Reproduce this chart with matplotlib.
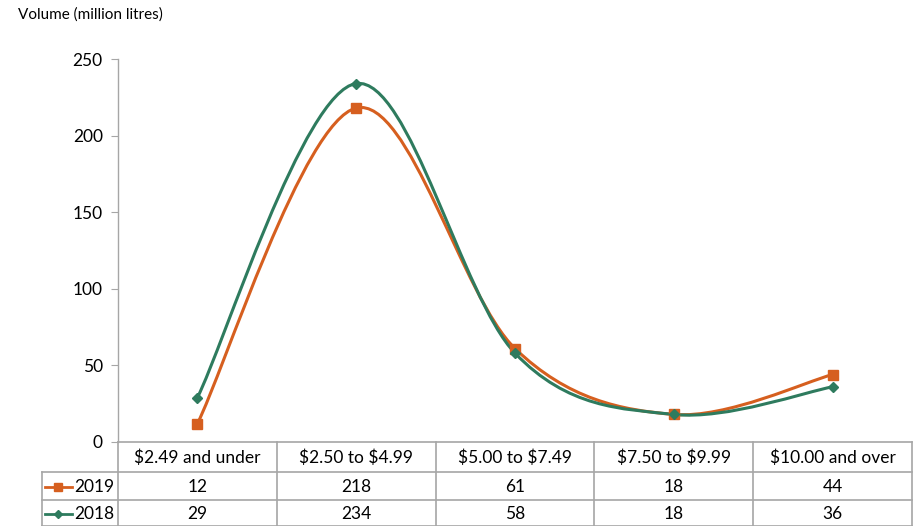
import matplotlib
matplotlib.use("Agg")
import matplotlib.pyplot as plt
from matplotlib.path import Path
from matplotlib.patches import PathPatch
from matplotlib.lines import Line2D
import numpy as np

categories = ["$2.49 and under", "$2.50 to $4.99", "$5.00 to $7.49", "$7.50 to $9.99", "$10.00 and over"]
series_names = ["2019", "2018"]
values_2019 = [12, 218, 61, 18, 44]
values_2018 = [29, 234, 58, 18, 36]
yticks = [0, 50, 100, 150, 200, 250]

plt.rcParams['font.family'] = ['Lato', 'DejaVu Sans']
plt.rcParams['text.parse_math'] = False

C19 = "#D65F1F"
C18 = "#2E7B5E"
GRID = "#A6A6A6"

fig = plt.figure(figsize=(9.18, 5.26), dpi=100)
W, H = 918, 526
L, R, B, T = 118, 912, 442, 59
ax = fig.add_axes([L / W, 1 - B / H, (R - L) / W, (B - T) / H])
n = len(categories)
ax.set_xlim(0, n)
ax.set_ylim(0, 250)
ax.set_yticks(yticks)
ax.set_xticks([])
for s in ["top", "right", "bottom"]:
    ax.spines[s].set_visible(False)
ax.spines["left"].set_color(GRID)
ax.spines["left"].set_linewidth(1.0)
ax.tick_params(axis="y", length=5, color=GRID, labelsize=12.5, pad=6)


def smooth_path(xs, ys):
    pts = list(zip(xs, ys))
    verts = [pts[0]]
    codes = [Path.MOVETO]
    m = len(pts)
    for i in range(m - 1):
        p0 = pts[i - 1] if i > 0 else pts[i]
        p1 = pts[i]
        p2 = pts[i + 1]
        p3 = pts[i + 2] if i + 2 < m else pts[i + 1]
        c1 = (p1[0] + (p2[0] - p0[0]) / 6, p1[1] + (p2[1] - p0[1]) / 6)
        c2 = (p2[0] - (p3[0] - p1[0]) / 6, p2[1] - (p3[1] - p1[1]) / 6)
        verts += [c1, c2, p2]
        codes += [Path.CURVE4] * 3
    return Path(verts, codes)


xs = np.arange(n) + 0.5
for vals, col, mk, ms in [(values_2019, C19, "s", 7), (values_2018, C18, "D", 5)]:
    path = smooth_path(xs, np.array(vals, dtype=float))
    ax.add_patch(PathPatch(path, facecolor="none", edgecolor=col, lw=2.2, zorder=3, clip_on=False))
    ax.plot(xs, vals, linestyle="none", marker=mk, markersize=ms, color=col, zorder=4, clip_on=False)

# y label
fig.text(18 / W, 1 - 15 / H, "Volume (million litres)", fontsize=11, ha="left", va="center")

# data table
def fx(px):
    return px / W

def fy(py):
    return 1 - py / H

col_edges = [L + (R - L) * i / n for i in range(n + 1)]
label_left = 42

lines = []
lines.append(([L, R], [442, 442]))
lines.append(([label_left, R], [472, 472]))
lines.append(([label_left, R], [500, 500]))
lines.append(([label_left, R], [525.5, 525.5]))
for ce in col_edges:
    lines.append(([ce, ce], [442, 526]))
lines.append(([label_left, label_left], [472, 526]))
for lx, ly in lines:
    fig.add_artist(Line2D([fx(v) for v in lx], [fy(v) for v in ly], color=GRID, lw=1.2))

for i, cat in enumerate(categories):
    cx = (col_edges[i] + col_edges[i + 1]) / 2
    fig.text(fx(cx), fy(458), cat, ha="center", va="center", fontsize=12.5)
    fig.text(fx(cx), fy(487), str(values_2019[i]), ha="center", va="center", fontsize=12.5)
    fig.text(fx(cx), fy(514), str(values_2018[i]), ha="center", va="center", fontsize=12.5)

for name, yy, col, mk, ms in [(series_names[0], 487, C19, "s", 6), (series_names[1], 514, C18, "D", 4.5)]:
    fig.add_artist(Line2D([fx(45), fx(72)], [fy(yy), fy(yy)], color=col, lw=2.0))
    fig.add_artist(Line2D([fx(58.5)], [fy(yy)], color=col, marker=mk, markersize=ms, linestyle="none"))
    fig.text(fx(114), fy(yy), name, ha="right", va="center", fontsize=12.5)

fig.savefig("out.png", dpi=100)
